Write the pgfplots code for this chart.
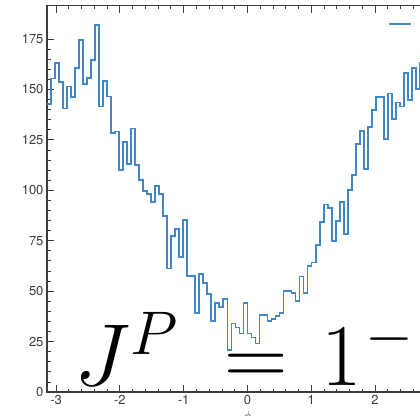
\RequirePackage{fix-cm}
\documentclass[border=0pt]{standalone}
\usepackage[no-math]{fontspec}
\setmainfont{TeX Gyre Heros}
\usepackage{pgfplots}
\pgfplotsset{compat=1.18}
\definecolor{histblue}{RGB}{66,136,200}
\definecolor{axisgray}{RGB}{60,60,60}
\begin{document}
\begin{tikzpicture}
\useasboundingbox (0,0) rectangle (420pt,415pt);
\begin{axis}[
  at={(47pt,23pt)}, anchor=south west,
  scale only axis, width=400.9pt, height=386.3pt,
  xmin=-3.14159, xmax=3.14159, ymin=0, ymax=191.5,
  xtick={-3,...,3}, ytick={0,25,...,175},
  minor x tick num=4, minor y tick num=4,
  tick align=inside,
  major tick length=7pt, minor tick length=3.5pt,
  tick style={axisgray, line width=0.8pt},
  axis line style={axisgray, line width=1.3pt},
  ticklabel style={font=\fontsize{13}{15}\selectfont, text=axisgray},
  /pgf/number format/assume math mode=true,
  xlabel={$\phi$},
  xlabel style={font=\fontsize{13}{15}\selectfont},
  legend style={draw=none, fill=none, anchor=west, at={(axis cs:2.2,182.4)}, inner sep=0pt, outer sep=0pt, nodes={inner sep=1pt}},
  legend image code/.code={\draw[#1] (0pt,0pt) -- (22pt,0pt);},
]
\addplot[const plot, draw=histblue, color=histblue, line width=1.8pt] table {
x y
-3.1416 142.6
-3.0788 155.4
-3.0159 162.9
-2.9531 153.7
-2.8903 140.5
-2.8274 151.4
-2.7646 146.3
-2.7018 160.7
-2.6389 174.6
-2.5761 152.6
-2.5133 155.6
-2.4504 164.7
-2.3876 181.9
-2.3248 141.5
-2.2619 154.2
-2.1991 146.5
-2.1363 128.2
-2.0735 129.1
-2.0106 110.0
-1.9478 124.1
-1.8850 113.2
-1.8221 130.6
-1.7593 112.5
-1.6965 105.2
-1.6336 99.5
-1.5708 98.0
-1.5080 94.3
-1.4451 102.2
-1.3823 98.3
-1.3195 87.2
-1.2566 61.2
-1.1938 77.2
-1.1310 81.0
-1.0681 67.0
-1.0053 85.1
-0.9425 57.4
-0.8796 57.4
-0.8168 39.1
-0.7540 58.6
-0.6912 54.0
-0.6283 48.5
-0.5655 35.0
-0.5027 44.0
-0.4398 42.0
-0.3770 46.0
-0.3142 21.0
-0.2513 34.0
-0.1885 32.0
-0.1257 29.0
-0.0628 44.0
0.0000 29.0
0.0628 27.0
0.1257 24.0
0.1885 38.0
0.2513 38.0
0.3142 35.0
0.3770 36.0
0.4398 37.5
0.5027 39.0
0.5655 50.0
0.6283 50.0
0.6912 49.0
0.7540 45.0
0.8168 57.3
0.8796 49.0
0.9425 62.3
1.0053 64.2
1.0681 73.0
1.1310 84.1
1.1938 92.9
1.2566 91.3
1.3195 75.0
1.3823 84.9
1.4451 94.2
1.5080 78.3
1.5708 100.0
1.6336 107.4
1.6965 123.1
1.7593 129.4
1.8221 110.4
1.8850 131.4
1.9478 139.7
2.0106 146.3
2.0735 146.3
2.1363 125.3
2.1991 148.0
2.2619 135.2
2.3248 143.5
2.3876 141.5
2.4504 158.0
2.5133 144.6
2.5761 160.5
2.6389 150.4
2.7018 163.0
2.7646 160.0
2.8274 160.0
};
\addlegendentry{}
\node[anchor=base west, inner sep=0pt, text depth=0pt] at (axis cs:-2.712,3) {\fontsize{88}{100}\selectfont $J^P$};
\node[anchor=base, inner sep=0pt, text depth=0pt] at (axis cs:0.134,3) {\fontsize{88}{100}\selectfont $=$};
\node[anchor=base west, inner sep=0pt, text depth=0pt] at (axis cs:1.16,3) {\fontsize{88}{100}\selectfont $1^{\kern3pt -}$};
\end{axis}
\end{tikzpicture}
\end{document}
